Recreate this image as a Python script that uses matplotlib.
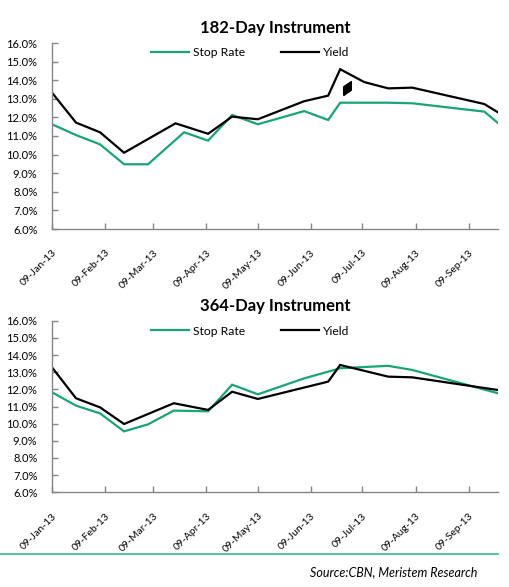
import matplotlib
matplotlib.use("Agg")
import matplotlib.pyplot as plt
import matplotlib.dates as mdates
import matplotlib.transforms as mtrans
import pandas as pd
from matplotlib.ticker import FuncFormatter, MultipleLocator

# ---- data: 182-Day Instrument ----
d182_stop = ["2013-01-09", "2013-01-23", "2013-02-06", "2013-02-20", "2013-03-06",
             "2013-03-27", "2013-04-10", "2013-04-24", "2013-05-09", "2013-06-05",
             "2013-06-19", "2013-06-26", "2013-07-10", "2013-07-24", "2013-08-07",
             "2013-09-18", "2013-09-26"]
v182_stop = [11.63, 11.05, 10.55, 9.48, 9.48, 11.20, 10.75, 12.13, 11.63, 12.34,
             11.86, 12.79, 12.79, 12.79, 12.76, 12.31, 11.70]
d182_yield = ["2013-01-09", "2013-01-23", "2013-02-06", "2013-02-20", "2013-03-22",
              "2013-04-10", "2013-04-24", "2013-05-09", "2013-06-05", "2013-06-19",
              "2013-06-26", "2013-07-10", "2013-07-24", "2013-08-07", "2013-09-18",
              "2013-09-26"]
v182_yield = [13.33, 11.72, 11.20, 10.10, 11.68, 11.12, 12.04, 11.90, 12.87, 13.17,
              14.59, 13.90, 13.56, 13.60, 12.72, 12.27]

# stray marker visible in the top chart
marker182_date = "2013-06-30"
marker182_value = 13.56

# ---- data: 364-Day Instrument ----
d364_stop = ["2013-01-09", "2013-01-23", "2013-02-06", "2013-02-20", "2013-03-06",
             "2013-03-21", "2013-04-10", "2013-04-24", "2013-05-09", "2013-06-05",
             "2013-06-19", "2013-06-26", "2013-07-24", "2013-08-07", "2013-09-26"]
v364_stop = [11.83, 11.05, 10.60, 9.55, 9.96, 10.76, 10.72, 12.27, 11.71, 12.64,
             13.03, 13.23, 13.37, 13.13, 11.77]
d364_yield = ["2013-01-09", "2013-01-23", "2013-02-06", "2013-02-20", "2013-03-21",
              "2013-04-10", "2013-04-24", "2013-05-09", "2013-06-19", "2013-06-26",
              "2013-07-24", "2013-08-07", "2013-09-26"]
v364_yield = [13.28, 11.48, 10.95, 9.98, 11.19, 10.80, 11.86, 11.44, 12.45, 13.42,
              12.74, 12.70, 11.96]

titles = ["182-Day Instrument", "364-Day Instrument"]
series_labels = ["Stop Rate", "Yield"]
tick_dates = ["2013-01-09", "2013-02-09", "2013-03-09", "2013-04-09", "2013-05-09",
              "2013-06-09", "2013-07-09", "2013-08-09", "2013-09-09"]
x_range = ["2013-01-09", "2013-09-26"]
source_text = "Source:CBN, Meristem Research"

GREEN = "#17a673"
BLACK = "#000000"
SPINE = "#858585"
FONT = "Lato"

plt.rcParams["font.family"] = [FONT, "DejaVu Sans"]

fig = plt.figure(figsize=(5.10, 5.87), dpi=100)
W, H = 510, 587


def make_axes(left, top, right, bottom):
    return fig.add_axes([left / W, 1 - bottom / H, (right - left) / W, (bottom - top) / H])


ax1 = make_axes(52, 43, 498, 229)
ax2 = make_axes(52, 320.7, 498, 492.3)

panels = [
    (ax1, titles[0], d182_stop, v182_stop, d182_yield, v182_yield),
    (ax2, titles[1], d364_stop, v364_stop, d364_yield, v364_yield),
]

shift = mtrans.ScaledTranslation(3 / 100, 0, fig.dpi_scale_trans)

for ax, title, ds, vs, dy, vy in panels:
    ax.plot(pd.to_datetime(ds), vs, color=GREEN, lw=1.6, label=series_labels[0],
            solid_joinstyle="miter")
    ax.plot(pd.to_datetime(dy), vy, color=BLACK, lw=1.6, label=series_labels[1],
            solid_joinstyle="miter")
    ax.set_ylim(6, 16)
    ax.set_xlim(pd.to_datetime(x_range[0]), pd.to_datetime(x_range[1]))
    ax.yaxis.set_major_locator(MultipleLocator(1))
    ax.yaxis.set_major_formatter(FuncFormatter(lambda v, p: f"{v:.1f}%"))
    ax.set_xticks(pd.to_datetime(tick_dates))
    ax.xaxis.set_major_formatter(mdates.DateFormatter("%d-%b-%y"))
    ax.tick_params(axis="both", direction="in", length=4, width=1, color=SPINE)
    ax.tick_params(axis="y", labelsize=8, pad=10.5)
    ax.tick_params(axis="x", labelsize=7.5, pad=16)
    for lab in ax.get_xticklabels():
        lab.set_rotation(45)
        lab.set_ha("right")
        lab.set_va("center")
        lab.set_rotation_mode("anchor")
        lab.set_transform(lab.get_transform() + shift)
    for s in ["top", "right"]:
        ax.spines[s].set_visible(False)
    for s in ["left", "bottom"]:
        ax.spines[s].set_color(SPINE)
        ax.spines[s].set_linewidth(1.0)
    ax.set_title(title, fontsize=12, fontweight="bold", pad=7)
    ax.legend(loc="upper center", bbox_to_anchor=(0.445, 1.035), ncol=2, frameon=False,
              fontsize=8.7, handlelength=3.1, columnspacing=3.0, handletextpad=0.35)

diamond = [(-0.55, -1.0), (-0.55, 0.25), (0.55, 1.0), (0.55, -0.25), (-0.55, -1.0)]
ax1.plot(pd.to_datetime([marker182_date]), [marker182_value], marker=diamond,
         color=BLACK, markersize=10, linestyle="none")

# separator line and source
fig.add_artist(plt.Line2D([0, 498 / W], [1 - 554 / H, 1 - 554 / H],
                          color="#45c194", lw=1.3))
fig.text(477 / W, 1 - 572 / H, source_text, ha="right", va="center",
         fontsize=9, style="italic")

fig.savefig("out.png", dpi=100)
